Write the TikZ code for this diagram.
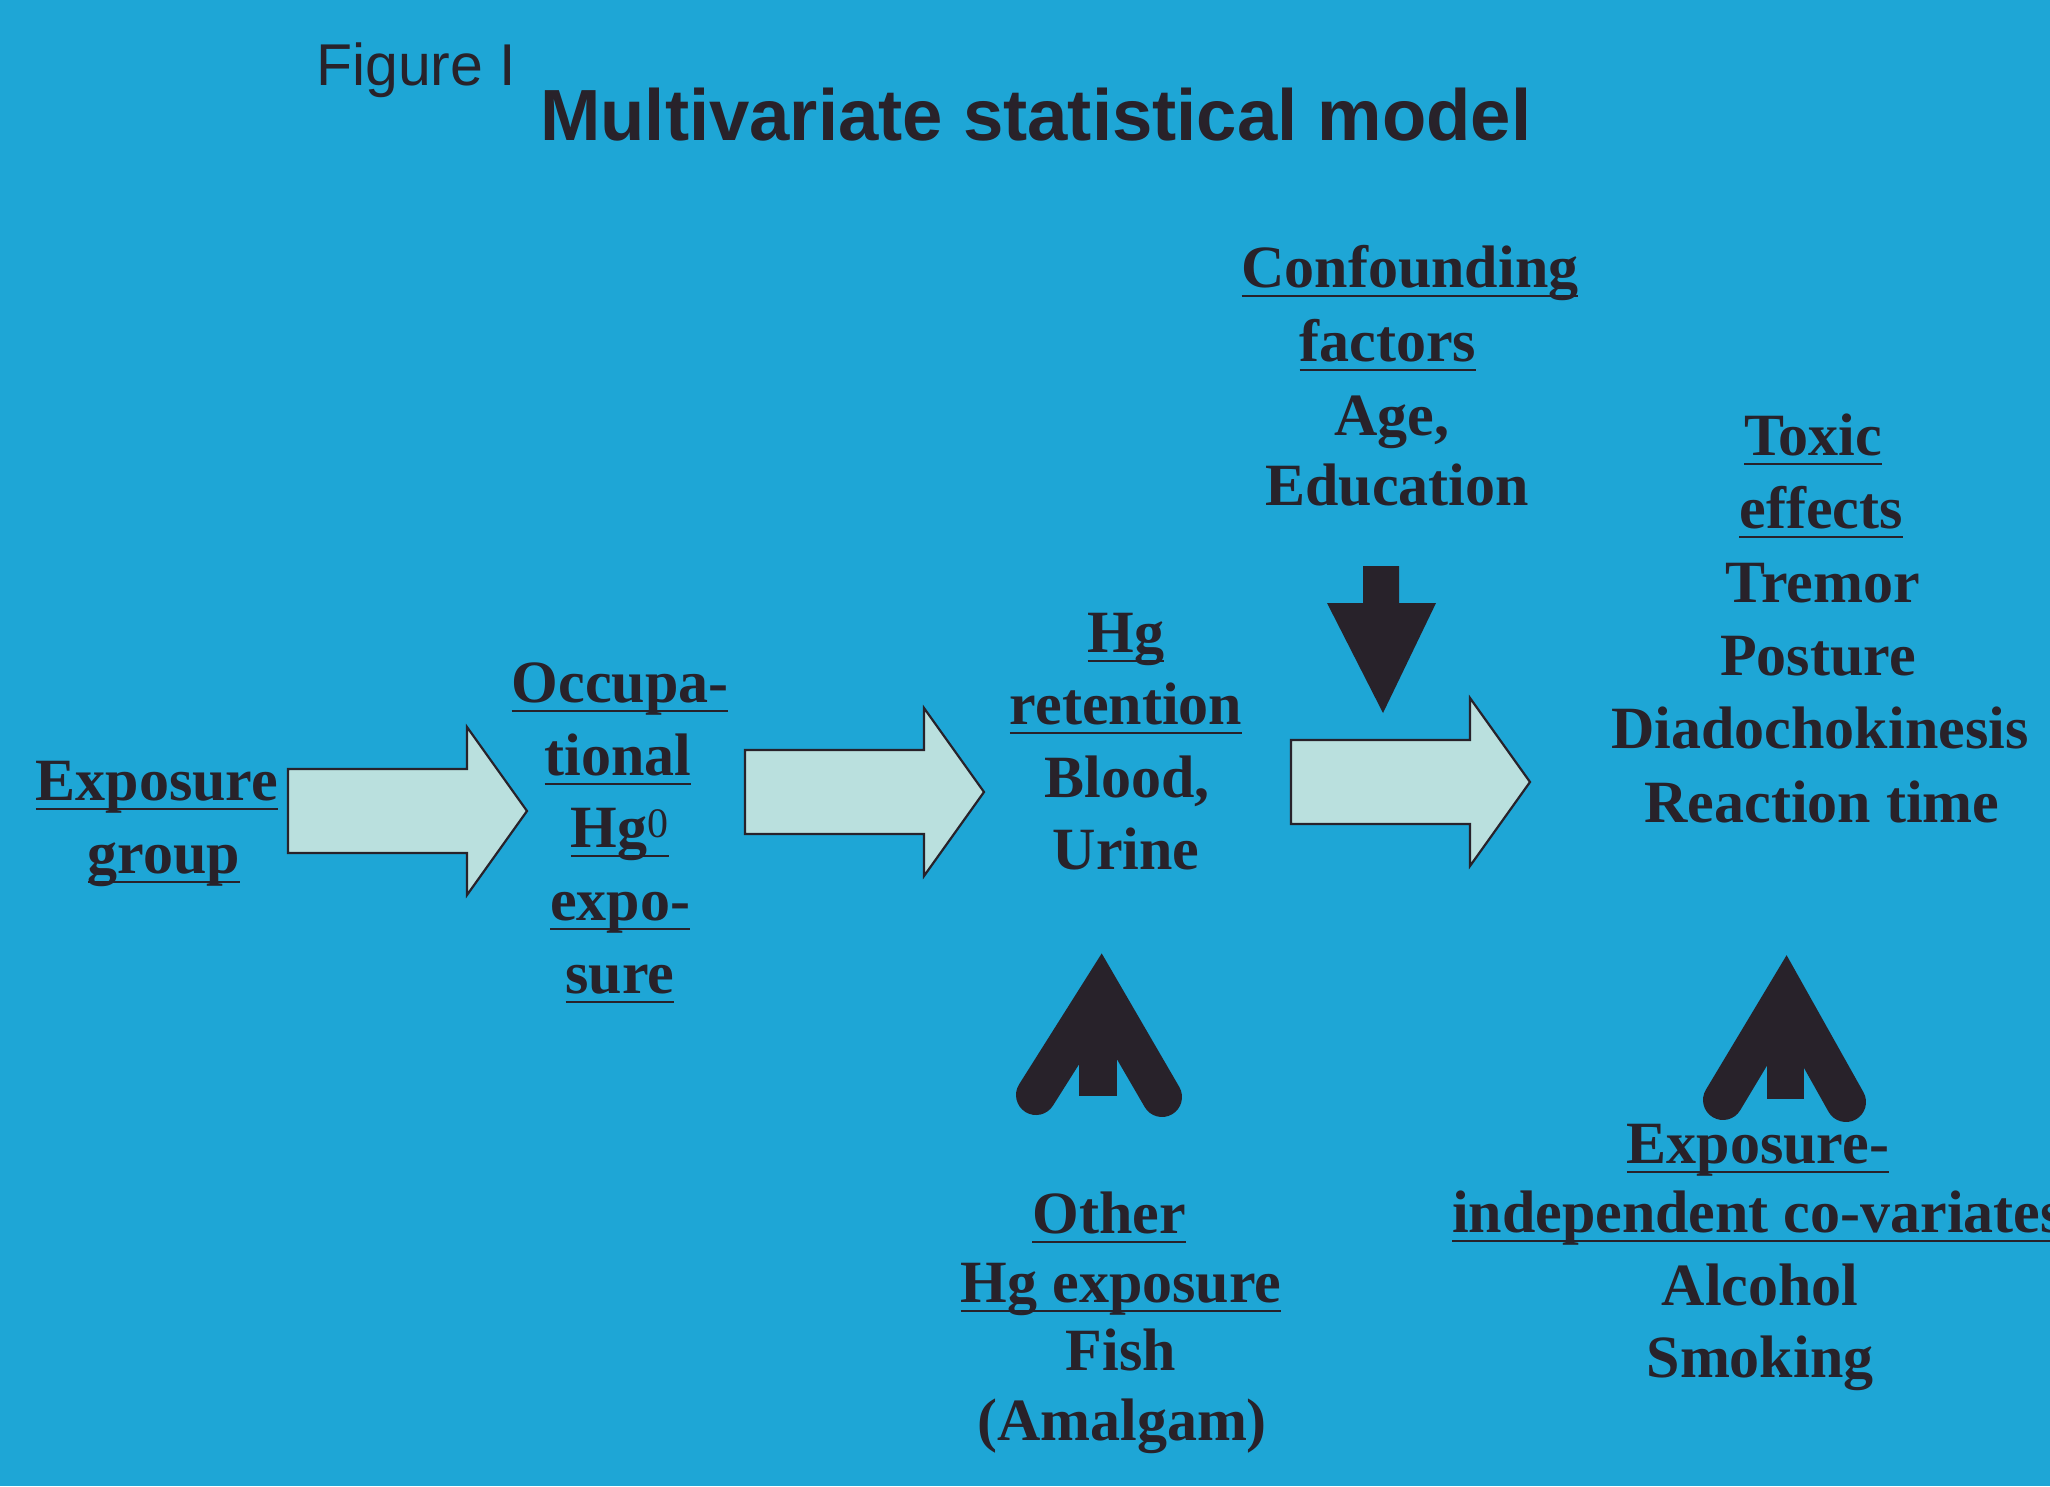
\documentclass[tikz,border=0pt]{standalone}
\usepackage{fontspec}
\setmainfont{Liberation Serif}
\newfontfamily\headfont{Liberation Sans}
\usetikzlibrary{calc}

\definecolor{bg}{RGB}{30,166,214}
\definecolor{pale}{RGB}{186,224,222}
\definecolor{ink}{RGB}{40,34,42}

% underlined word: rule a little below the baseline, as wide as the word
\newlength\ulwidth
\newcommand\ulx[1]{\settowidth{\ulwidth}{#1}\rlap{\rule[-10pt]{\ulwidth}{2.2pt}}#1}

\tikzset{
  txt/.style={font=\fontsize{60}{72}\selectfont\bfseries, text=ink, inner sep=0pt, anchor=base},
  blockarrow/.style={fill=pale, draw=ink, line width=2.2pt, line join=miter},
  pics/flow/.style={code={
    \path[blockarrow] (0,-42) -- (179,-42) -- (179,-84) -- (239,0) -- (179,84)
      -- (179,42) -- (0,42) -- cycle;
  }},
  chevron/.style={draw=ink, line width=40pt, line cap=round, line join=miter},
}

\begin{document}
\begin{tikzpicture}[x=1pt,y=-1pt]
  \useasboundingbox (0,0) rectangle (2050,1486);
  \clip (0,0) rectangle (2050,1486);
  \fill[bg] (0,0) rectangle (2050,1486);

  % heading
  \node[anchor=base west, inner sep=0pt, text=ink,
        font=\headfont\fontsize{59}{60}\selectfont] (fig) at (316,85) {Figure I};
  \node[anchor=base west, inner sep=0pt, text=ink,
        font=\headfont\bfseries\fontsize{72.5}{73}\selectfont] (title) at (540,140)
        {Multivariate statistical model};

  % exposure group
  \node[txt] (eg1) at (157,800) {\ulx{Exposure}};
  \node[txt] (eg2) at (164,873) {\ulx{group}};

  % occupational exposure
  \node[txt] (oc1) at (620,702) {\ulx{Occupa-}};
  \node[txt] (oc2) at (618,775) {\ulx{tional}};
  \node[txt] (oc3) at (620,847) {\ulx{Hg\textsuperscript{\mdseries 0}}};
  \node[txt] (oc4) at (620,920) {\ulx{expo-}};
  \node[txt] (oc5) at (620,993) {\ulx{sure}};

  % retention
  \node[txt] (rt1) at (1126,652) {\ulx{Hg}};
  \node[txt] (rt2) at (1126,724) {\ulx{retention}};
  \node[txt] (rt3) at (1127,797) {Blood,};
  \node[txt] (rt4) at (1126,869) {Urine};

  % confounders
  \node[txt] (cf1) at (1410,287) {\ulx{Confounding}};
  \node[txt] (cf2) at (1388,361) {\ulx{factors}};
  \node[txt] (cf3) at (1392,435) {Age,};
  \node[txt] (cf4) at (1397,505) {Education};

  % outcomes
  \node[txt] (tx1) at (1813,455) {\ulx{Toxic}};
  \node[txt] (tx2) at (1821,528) {\ulx{effects}};
  \node[txt] (tx3) at (1823,602) {Tremor};
  \node[txt] (tx4) at (1818,675) {Posture};
  \node[txt] (tx5) at (1820,748) {Diadochokinesis};
  \node[txt] (tx6) at (1822,822) {Reaction time};

  % other exposure
  \node[txt] (ot1) at (1109,1233) {\ulx{Other}};
  \node[txt] (ot2) at (1121,1302) {\ulx{Hg exposure}};
  \node[txt] (ot3) at (1121,1370) {Fish};
  \node[txt] (ot4) at (1122,1440) {(Amalgam)};

  % covariates
  \node[txt] (cv1) at (1758,1163) {\ulx{Exposure-}};
  \node[txt] (cv2) at (1758,1232) {\ulx{independent co-variates}};
  \node[txt] (cv3) at (1760,1305) {Alcohol};
  \node[txt] (cv4) at (1760,1377) {Smoking};

  % main flow arrows
  \pic at (288,811) {flow};
  \pic at (745,792) {flow};
  \pic at (1291,782) {flow};

  % confounders push down
  \fill[ink] (1363,566) -- (1399,566) -- (1399,603) -- (1436,603) -- (1383,713)
    -- (1327,603) -- (1363,603) -- cycle;

  % other exposure pushes up
  \path[chevron] (1036,1095) -- (1101,992) -- (1162,1097);
  \fill[ink] (1079,1020) rectangle (1117,1096);

  % covariates push up
  \path[chevron] (1723,1100) -- (1786,995) -- (1846,1102);
  \fill[ink] (1767,1025) rectangle (1804,1099);
\end{tikzpicture}
\end{document}
